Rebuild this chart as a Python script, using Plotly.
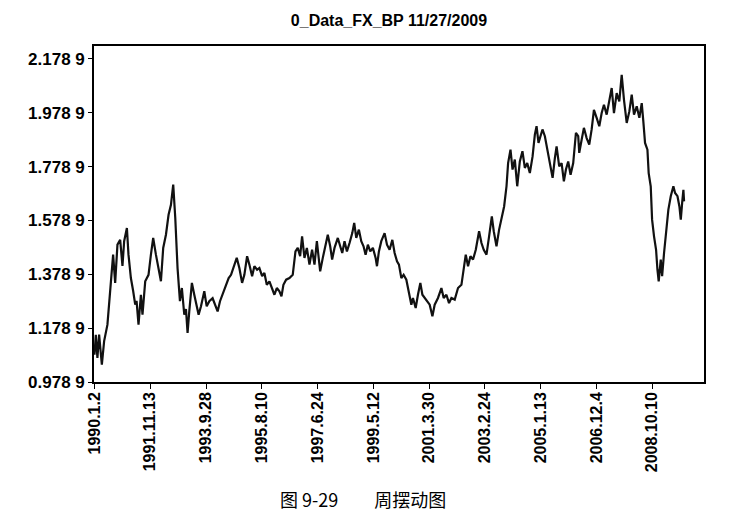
import plotly.graph_objects as go

# trading-day index (row number from 1990.1.2) and weekly swing value
day_index = [
    0, 12, 26, 41, 65, 85, 114, 144, 164, 182, 202, 226, 246, 261, 285, 299, 320, 340, 358, 370,
    387, 408, 422, 446, 475, 496, 516, 540, 557, 584, 604, 628, 651, 672, 692, 710, 730, 751, 768, 789,
    804, 818, 833, 856, 877, 898, 915, 936, 965, 986, 1009, 1038,
    1062, 1082, 1103, 1126, 1156, 1179, 1200, 1220, 1250, 1273, 1297, 1317, 1341, 1361, 1385, 1405, 1429, 1449,
    1473, 1493, 1514, 1537, 1561, 1581, 1602, 1625, 1643, 1660, 1684, 1713, 1742, 1766, 1786, 1807, 1824, 1845,
    1866, 1889, 1912, 1933, 1954, 1971, 1983, 2006, 2030, 2050, 2071, 2088, 2109, 2130,
    2138, 2159, 2177, 2197, 2218, 2241, 2265, 2282, 2300, 2323, 2344, 2364, 2382, 2402, 2423, 2446, 2470, 2482,
    2499, 2520, 2549, 2570, 2593, 2617, 2637, 2658, 2675, 2696, 2716, 2740, 2763, 2784, 2798, 2822, 2842, 2863,
    2881, 2901, 2922, 2945, 2969, 2989, 3018, 3048, 3068, 3092, 3115, 3136, 3165, 3186,
    3194, 3224, 3244, 3262, 3282, 3303, 3326, 3350, 3379, 3400, 3420, 3444, 3467, 3491, 3508, 3532, 3555, 3579,
    3599, 3620, 3634, 3655, 3673, 3693, 3714, 3737, 3760, 3781, 3802, 3825, 3849, 3869, 3884, 3901, 3919, 3936,
    3957, 3978, 4001, 4025, 4045, 4060, 4083, 4104, 4124, 4142, 4162, 4183, 4206, 4230, 4250,
    4259, 4280, 4300, 4324, 4347, 4368, 4388, 4412, 4435, 4456, 4476, 4500, 4523, 4544, 4564, 4588, 4611, 4632,
    4652, 4676, 4699, 4720, 4740, 4764, 4787, 4808, 4822, 4837, 4858, 4869, 4887, 4899, 4916, 4934, 4946, 4957,
    4975, 4987, 5004, 5022, 5042, 5063, 5086, 5101, 5122, 5139, 5151, 5163, 5174, 5180,
]
swing_value = [
    1.080, 1.154, 1.068, 1.155, 1.043, 1.131, 1.192, 1.365, 1.452, 1.347, 1.489, 1.507, 1.410, 1.502, 1.551, 1.452, 1.365, 1.317, 1.266, 1.280,
    1.192, 1.303, 1.229, 1.353, 1.377, 1.452, 1.514, 1.452, 1.415, 1.353, 1.477, 1.526, 1.600, 1.637, 1.712, 1.588, 1.402, 1.279, 1.328, 1.229,
    1.250, 1.161, 1.241, 1.347, 1.303, 1.254, 1.229, 1.260, 1.316, 1.260, 1.279, 1.290,
    1.266, 1.241, 1.279, 1.303, 1.340, 1.365, 1.377, 1.402, 1.440, 1.402, 1.347, 1.377, 1.446, 1.415, 1.372, 1.409, 1.396, 1.402,
    1.372, 1.384, 1.340, 1.353, 1.328, 1.303, 1.328, 1.316, 1.297, 1.340, 1.359, 1.365, 1.377, 1.464, 1.477, 1.446, 1.520, 1.440,
    1.477, 1.415, 1.470, 1.415, 1.502, 1.446, 1.390, 1.440, 1.489, 1.526, 1.483, 1.434, 1.477, 1.507,
    1.514, 1.483, 1.458, 1.502, 1.464, 1.495, 1.532, 1.570, 1.514, 1.545, 1.502, 1.483, 1.452, 1.489, 1.464, 1.477, 1.440, 1.409,
    1.464, 1.502, 1.532, 1.489, 1.470, 1.507, 1.458, 1.427, 1.415, 1.365, 1.377, 1.359, 1.316, 1.266, 1.291, 1.254, 1.303, 1.347,
    1.303, 1.291, 1.279, 1.266, 1.223, 1.266, 1.291, 1.328, 1.291, 1.303, 1.272, 1.291, 1.285, 1.316,
    1.328, 1.340, 1.409, 1.452, 1.409, 1.446, 1.434, 1.470, 1.539, 1.495, 1.470, 1.452, 1.520, 1.594, 1.539, 1.483, 1.545, 1.594,
    1.631, 1.706, 1.792, 1.842, 1.768, 1.805, 1.706, 1.798, 1.836, 1.774, 1.792, 1.755, 1.817, 1.898, 1.929, 1.867, 1.892, 1.917,
    1.892, 1.848, 1.798, 1.737, 1.811, 1.854, 1.780, 1.792, 1.724, 1.768, 1.798, 1.749, 1.792, 1.904, 1.892,
    1.830, 1.879, 1.923, 1.885, 1.861, 1.917, 1.990, 1.960, 1.929, 1.978, 2.009, 1.972, 2.027, 2.071, 1.978, 2.052, 2.021, 2.120,
    2.027, 1.941, 1.984, 2.046, 1.972, 2.003, 1.960, 2.015, 1.947, 1.867, 1.842, 1.755, 1.706, 1.582, 1.520, 1.470, 1.396, 1.353,
    1.434, 1.372, 1.458, 1.532, 1.619, 1.669, 1.706, 1.681, 1.669, 1.631, 1.582, 1.644, 1.693, 1.650,
]

x_tick_index = [0, 490, 980, 1470, 1960, 2450, 2940, 3430, 3920, 4410, 4900]
x_tick_labels = ["1990.1.2", "1991.11.13", "1993.9.28", "1995.8.10", "1997.6.24", "1999.5.12",
                 "2001.3.30", "2003.2.24", "2005.1.13", "2006.12.4", "2008.10.10"]
y_tick_values = [0.9789, 1.1789, 1.3789, 1.5789, 1.7789, 1.9789, 2.1789]
y_tick_labels = ["0.978 9", "1.178 9", "1.378 9", "1.578 9", "1.778 9", "1.978 9", "2.178 9"]

fig = go.Figure()
fig.add_trace(go.Scatter(
    x=day_index, y=swing_value, mode="lines",
    line=dict(color="#111111", width=2.2),
    showlegend=False, hoverinfo="skip",
))

fig.update_layout(
    width=742, height=527,
    margin=dict(l=86, r=46, t=38, b=153),
    paper_bgcolor="white", plot_bgcolor="white",
    title=dict(
        text="0_Data_FX_BP 11/27/2009",
        x=381 / 742, xanchor="center", xref="container",
        y=1 - 12 / 527, yanchor="middle", yref="container",
        font=dict(family="Liberation Sans", size=16, color="black", weight="bold"),
    ),
    annotations=[dict(
        text="图 9-29\u3000\u3000周摆动图",
        xref="paper", yref="paper",
        x=(355 - 86) / 610, y=(374 - 491) / 336,
        xanchor="center", yanchor="middle", showarrow=False,
        font=dict(family="Noto Sans CJK SC", size=18, color="black"),
    )],
)

fig.update_xaxes(
    range=[-4, 5355], automargin=False,
    tickmode="array", tickvals=x_tick_index, ticktext=x_tick_labels,
    tickangle=-90, ticklabelstandoff=-3,
    ticks="outside", ticklen=5, tickwidth=1, tickcolor="black",
    tickfont=dict(family="Liberation Sans", size=16, color="black", weight="bold"),
    showline=True, linecolor="black", linewidth=1.5, mirror=True,
    showgrid=False, zeroline=False,
)
fig.update_yaxes(
    range=[0.9789, 2.227], automargin=False,
    tickmode="array", tickvals=y_tick_values, ticktext=y_tick_labels,
    ticks="outside", ticklen=4, tickwidth=1, tickcolor="black",
    tickfont=dict(family="Liberation Sans", size=17, color="black", weight="bold"),
    showline=True, linecolor="black", linewidth=1.5, mirror=True,
    showgrid=False, zeroline=False,
)

fig.write_html("out.html")
